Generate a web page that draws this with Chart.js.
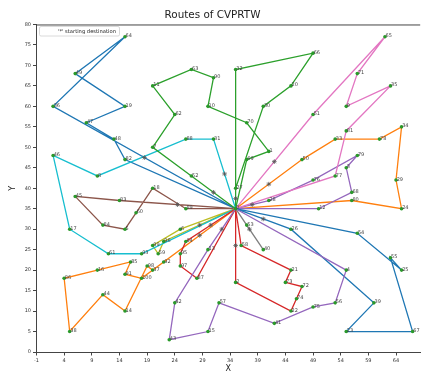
<!DOCTYPE html>
<html>
<head>
<meta charset="utf-8">
<script src="https://cdn.jsdelivr.net/npm/chart.js@4.4.1/dist/chart.umd.min.js"></script>
<style>
  html, body { margin: 0; padding: 0; background: #fff; }
  #wrap { width: 425px; height: 374px; }
</style>
</head>
<body>
<div id="wrap"><canvas id="myChart" width="425" height="374"></canvas></div>
<script>
// customer coordinates, index = customer id (0 = depot)
const custX = [35, 41, 35, 55, 55, 15, 25, 20, 10, 55,
               30, 20, 50, 30, 15, 30, 10, 5, 20, 15,
               45, 45, 45, 55, 65, 65, 45, 35, 41, 64,
               40, 31, 35, 53, 65, 63, 2, 20, 5, 60,
               40, 42, 24, 23, 11, 6, 2, 8, 13, 6,
               47, 49, 27, 37, 57, 63, 53, 32, 36, 21,
               17, 12, 24, 27, 15, 62, 49, 67, 56, 37,
               37, 57, 47, 44, 46, 49, 49, 53, 61, 57,
               56, 55, 15, 14, 11, 16, 4, 28, 26, 26,
               31, 15, 22, 18, 26, 25, 22, 25, 19, 20,
               18];
const custY = [35, 49, 17, 45, 20, 30, 30, 50, 43, 60,
               60, 65, 35, 25, 10, 5, 20, 30, 40, 60,
               65, 20, 10, 5, 35, 20, 30, 40, 37, 42,
               60, 52, 69, 52, 55, 65, 60, 20, 5, 12,
               25, 7, 12, 3, 14, 38, 48, 56, 52, 68,
               47, 58, 43, 31, 29, 23, 12, 12, 26, 24,
               34, 24, 58, 69, 77, 77, 73, 5, 39, 47,
               56, 68, 16, 17, 13, 11, 42, 43, 52, 48,
               37, 54, 47, 37, 31, 22, 18, 18, 52, 35,
               67, 19, 22, 24, 27, 24, 27, 21, 21, 26,
               18];

// vehicle routes (customer ids, start and end at depot 0)
const route1 = [0, 36, 64, 49, 19, 47, 48, 82, 0];
const route2 = [0, 50, 33, 78, 34, 29, 24, 80, 0];
const route3 = [0, 27, 30, 20, 66, 32, 0];
const route4 = [0, 2, 22, 74, 72, 73, 21, 58, 0];
const route5 = [0, 28, 76, 79, 3, 68, 12, 0];
const route6 = [0, 83, 45, 84, 5, 60, 18, 89, 0];
const route7 = [0, 51, 65, 71, 9, 35, 81, 77, 0];
const route8 = [0, 40, 53, 0];
const route9 = [0, 96, 59, 99, 6, 0];
const route10 = [0, 31, 88, 8, 46, 17, 61, 93, 0];
const route11 = [0, 26, 39, 23, 67, 55, 25, 54, 0];
const route12 = [0, 92, 37, 98, 14, 44, 38, 86, 16, 85, 91, 100, 0];
const route13 = [0, 52, 7, 62, 11, 63, 90, 10, 70, 1, 69, 0];
const route14 = [0, 94, 95, 97, 87, 0];
const route15 = [0, 13, 42, 43, 15, 57, 41, 75, 56, 4, 0];

// '*' marks (starting destination)
const starX = [18.5, 41, 35, 35, 38, 24.5, 42, 37.5, 28.5, 33, 40, 28.5, 31, 30.5, 32.5];
const starY = [47.5, 41, 37.5, 26, 36, 36, 46.5, 30, 31, 43.5, 32.5, 28.5, 39, 31, 30];

const xTicks = [-1, 4, 9, 14, 19, 24, 29, 34, 39, 44, 49, 54, 59, 64];

const routeColors = ['#1f77b4', '#ff7f0e', '#2ca02c', '#d62728', '#9467bd',
                     '#8c564b', '#e377c2', '#7f7f7f', '#bcbd22', '#17becf'];

const routes = [route1, route2, route3, route4, route5, route6, route7, route8,
                route9, route10, route11, route12, route13, route14, route15];

// Build one line dataset per route
const routeSets = routes.map((r, i) => ({
    data: r.map(id => ({ x: custX[id], y: custY[id] })),
    showLine: true,
    borderColor: routeColors[i % 10],
    borderWidth: 1.3,
    pointRadius: 0,
    order: 100 - i
}));

// Draws the number beside each point, the top spine and the little legend box
const labelPlugin = {
    id: 'pointLabels',
    afterDatasetsDraw(chart) {
        const { ctx, chartArea, scales: { x, y } } = chart;
        ctx.save();
        ctx.font = '5px "DejaVu Sans"';
        ctx.fillStyle = '#444';
        ctx.textAlign = 'left';
        ctx.textBaseline = 'alphabetic';
        for (let i = 0; i < custX.length; i++) {
            ctx.fillText(String(i), x.getPixelForValue(custX[i]) + 0.6, y.getPixelForValue(custY[i]) + 0.6);
        }

        // top spine
        ctx.strokeStyle = '#444';
        ctx.lineWidth = 1;
        ctx.beginPath();
        ctx.moveTo(chartArea.left, chartArea.top + 0.5);
        ctx.lineTo(chartArea.right, chartArea.top + 0.5);
        ctx.stroke();

        // legend
        const lx = 39.5, ly = 26.5, lw = 80, lh = 9.5;
        ctx.fillStyle = 'rgba(255,255,255,0.8)';
        ctx.strokeStyle = '#d0d0d0';
        ctx.lineWidth = 0.8;
        ctx.beginPath();
        ctx.roundRect(lx, ly, lw, lh, 1.5);
        ctx.fill();
        ctx.stroke();
        ctx.fillStyle = '#222';
        ctx.font = '5.2px "DejaVu Sans"';
        ctx.textBaseline = 'middle';
        ctx.fillText("'*' starting destination", 58, ly + lh / 2);
        ctx.restore();
    }
};

const ctx = document.getElementById('myChart').getContext('2d');
new Chart(ctx, {
    type: 'scatter',
    data: {
        datasets: [
            {
                data: custX.map((v, i) => ({ x: v, y: custY[i] })),
                pointRadius: 1.8,
                pointBackgroundColor: '#2a9a2a',
                pointBorderWidth: 0,
                order: 0
            },
            {
                data: starX.map((v, i) => ({ x: v, y: starY[i] })),
                pointStyle: 'star',
                pointRadius: 2.3,
                pointBorderColor: '#555',
                pointBorderWidth: 0.8,
                order: 1
            },
            ...routeSets
        ]
    },
    options: {
        responsive: false,
        animation: false,
        devicePixelRatio: 1,
        layout: { padding: { left: 0, right: 0, top: 0, bottom: 0 } },
        plugins: {
            legend: { display: false },
            tooltip: { enabled: false },
            title: {
                display: true,
                text: 'Routes of CVPRTW',
                color: '#222',
                font: { family: 'DejaVu Sans', size: 10.4, weight: 'normal' },
                padding: { top: 9, bottom: 3 }
            }
        },
        scales: {
            x: {
                type: 'linear',
                min: -1,
                max: 68.37,
                afterBuildTicks: scale => { scale.ticks = xTicks.map(v => ({ value: v })); },
                afterFit: scale => { scale.height = 22; },
                grid: { drawOnChartArea: false, color: '#444', tickLength: 3.5 },
                border: { color: '#444', width: 1 },
                ticks: { color: '#333', font: { family: 'DejaVu Sans', size: 5 }, padding: 2, maxRotation: 0 },
                title: { display: true, text: 'X', color: '#222', font: { family: 'DejaVu Sans', size: 8 }, padding: 0 }
            },
            y: {
                min: 0,
                max: 80,
                ticks: { stepSize: 5, color: '#333', font: { family: 'DejaVu Sans', size: 5 }, padding: 2 },
                afterFit: scale => { scale.width = 36.5; },
                grid: { drawOnChartArea: false, color: '#444', tickLength: 3.5 },
                border: { color: '#444', width: 1 },
                title: { display: true, text: 'Y', color: '#222', font: { family: 'DejaVu Sans', size: 8 }, padding: { top: 8, bottom: 0 } }
            }
        }
    },
    plugins: [labelPlugin]
});
</script>
</body>
</html>
